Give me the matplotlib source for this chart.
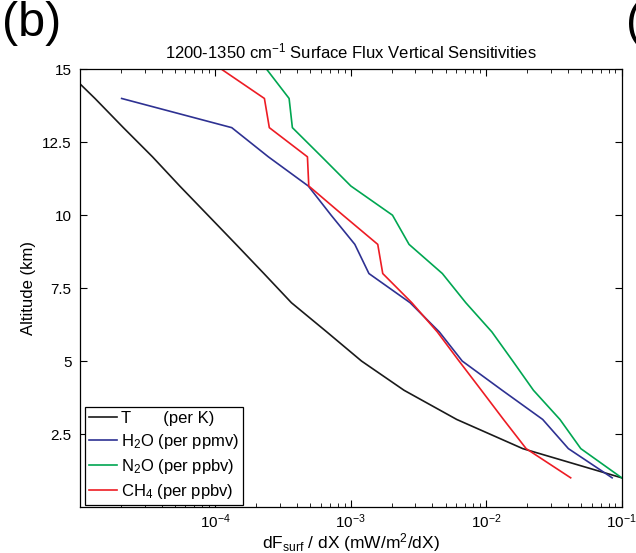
"""
    Surface flux vertical sensitivities, 1200-1350 cm-1 band
"""

import numpy as np
import matplotlib
matplotlib.use("Agg")
import matplotlib.pyplot as plt
from matplotlib.ticker import LogLocator, NullFormatter

plt.rcParams['font.family'] = ['Liberation Sans', 'DejaVu Sans']
plt.rcParams['mathtext.fontset'] = 'custom'
plt.rcParams['mathtext.rm'] = 'Liberation Sans'
plt.rcParams['mathtext.it'] = 'Liberation Sans'
plt.rcParams['mathtext.default'] = 'regular'

# altitude grid (km)
alt_T = [15, 14.5, 14, 13, 12, 11, 10, 9, 8, 7, 6, 5, 4, 3, 2, 1]
sens_T = [7.9e-6, 1.0e-5, 1.29e-5, 2.09e-5, 3.43e-5, 5.45e-5, 8.8e-5, 1.42e-4,
          2.28e-4, 3.64e-4, 6.64e-4, 1.2e-3, 2.47e-3, 6.05e-3, 1.86e-2, 0.1]

alt_H2O = [14, 13, 12, 11, 10, 9, 8, 7, 6, 5, 4, 3, 2, 1]
sens_H2O = [2.03e-5, 1.32e-4, 2.46e-4, 4.85e-4, 7.15e-4, 1.07e-3, 1.36e-3,
            2.74e-3, 4.5e-3, 6.65e-3, 1.31e-2, 2.61e-2, 4.04e-2, 8.5e-2]

alt_N2O = [15, 14, 13, 12, 11, 10, 9, 8, 7, 6, 5, 4, 3, 2, 1]
sens_N2O = [2.39e-4, 3.5e-4, 3.7e-4, 6.1e-4, 1.0e-3, 2.03e-3, 2.69e-3, 4.74e-3,
            7.06e-3, 1.1e-2, 1.57e-2, 2.23e-2, 3.5e-2, 4.99e-2, 0.1]

alt_CH4 = [15, 14, 13, 12, 11, 10, 9, 8, 7, 6, 5, 4, 3, 2, 1]
sens_CH4 = [1.11e-4, 2.3e-4, 2.5e-4, 4.78e-4, 4.89e-4, 8.75e-4, 1.58e-3, 1.72e-3,
            2.82e-3, 4.35e-3, 6.3e-3, 9.2e-3, 1.34e-2, 1.97e-2, 4.2e-2]

labels = ["T       (per K)", "H$_2$O (per ppmv)", "N$_2$O (per ppbv)", "CH$_4$ (per ppbv)"]
colors = ["#1a1a1a", "#2e3192", "#00a651", "#ed1c24"]

fig = plt.figure(figsize=(6.36, 5.53), dpi=100)
ax = fig.add_axes([0.1258, 0.0832, 0.8517, 0.7915])

for xs, ys, lab, c in zip([sens_T, sens_H2O, sens_N2O, sens_CH4],
                          [alt_T, alt_H2O, alt_N2O, alt_CH4], labels, colors):
    ax.plot(xs, ys, color=c, lw=1.2, label=lab)

ax.set_xscale('log')
ax.set_xlim(1e-5, 1e-1)
ax.set_ylim(0, 15)
ax.set_xticks([1e-4, 1e-3, 1e-2, 1e-1])
ax.set_xticklabels(["$10^{-4}$", "$10^{-3}$", "$10^{-2}$", "$10^{-1}$"])
ax.xaxis.set_minor_locator(LogLocator(base=10, subs=np.arange(2, 10), numticks=20))
ax.xaxis.set_minor_formatter(NullFormatter())
ax.set_yticks([2.5, 5, 7.5, 10, 12.5, 15])
ax.set_yticklabels(["2.5", "5", "7.5", "10", "12.5", "15"])

ax.tick_params(which='both', direction='in', top=True, right=True, labelsize=11)
ax.tick_params(which='major', length=5, width=0.8)
ax.tick_params(which='minor', length=3, width=0.6)
ax.tick_params(axis='x', pad=4)
ax.tick_params(axis='y', pad=6)
for s in ax.spines.values():
    s.set_linewidth(0.9)

ax.set_xlabel("dF$_{surf}$ / dX (mW/m$^2$/dX)", fontsize=12.5, labelpad=0)
ax.set_ylabel("Altitude (km)", fontsize=12, labelpad=4)
ax.set_title("1200-1350 cm$^{-1}$ Surface Flux Vertical Sensitivities", fontsize=12, pad=8)

leg = ax.legend(loc='lower left', bbox_to_anchor=(0.009, 0.005), fontsize=12,
                handlelength=1.7, handletextpad=0.2, labelspacing=0.35,
                borderpad=0.25, borderaxespad=0.0, fancybox=False, framealpha=1)
leg.get_frame().set_edgecolor('black')
leg.get_frame().set_linewidth(0.9)

fig.text(0.003, 0.998, "(b)", fontsize=35, va='top', ha='left')
fig.text(0.984, 0.998, "(", fontsize=35, va='top', ha='left')

fig.savefig("out.png", dpi=100)
